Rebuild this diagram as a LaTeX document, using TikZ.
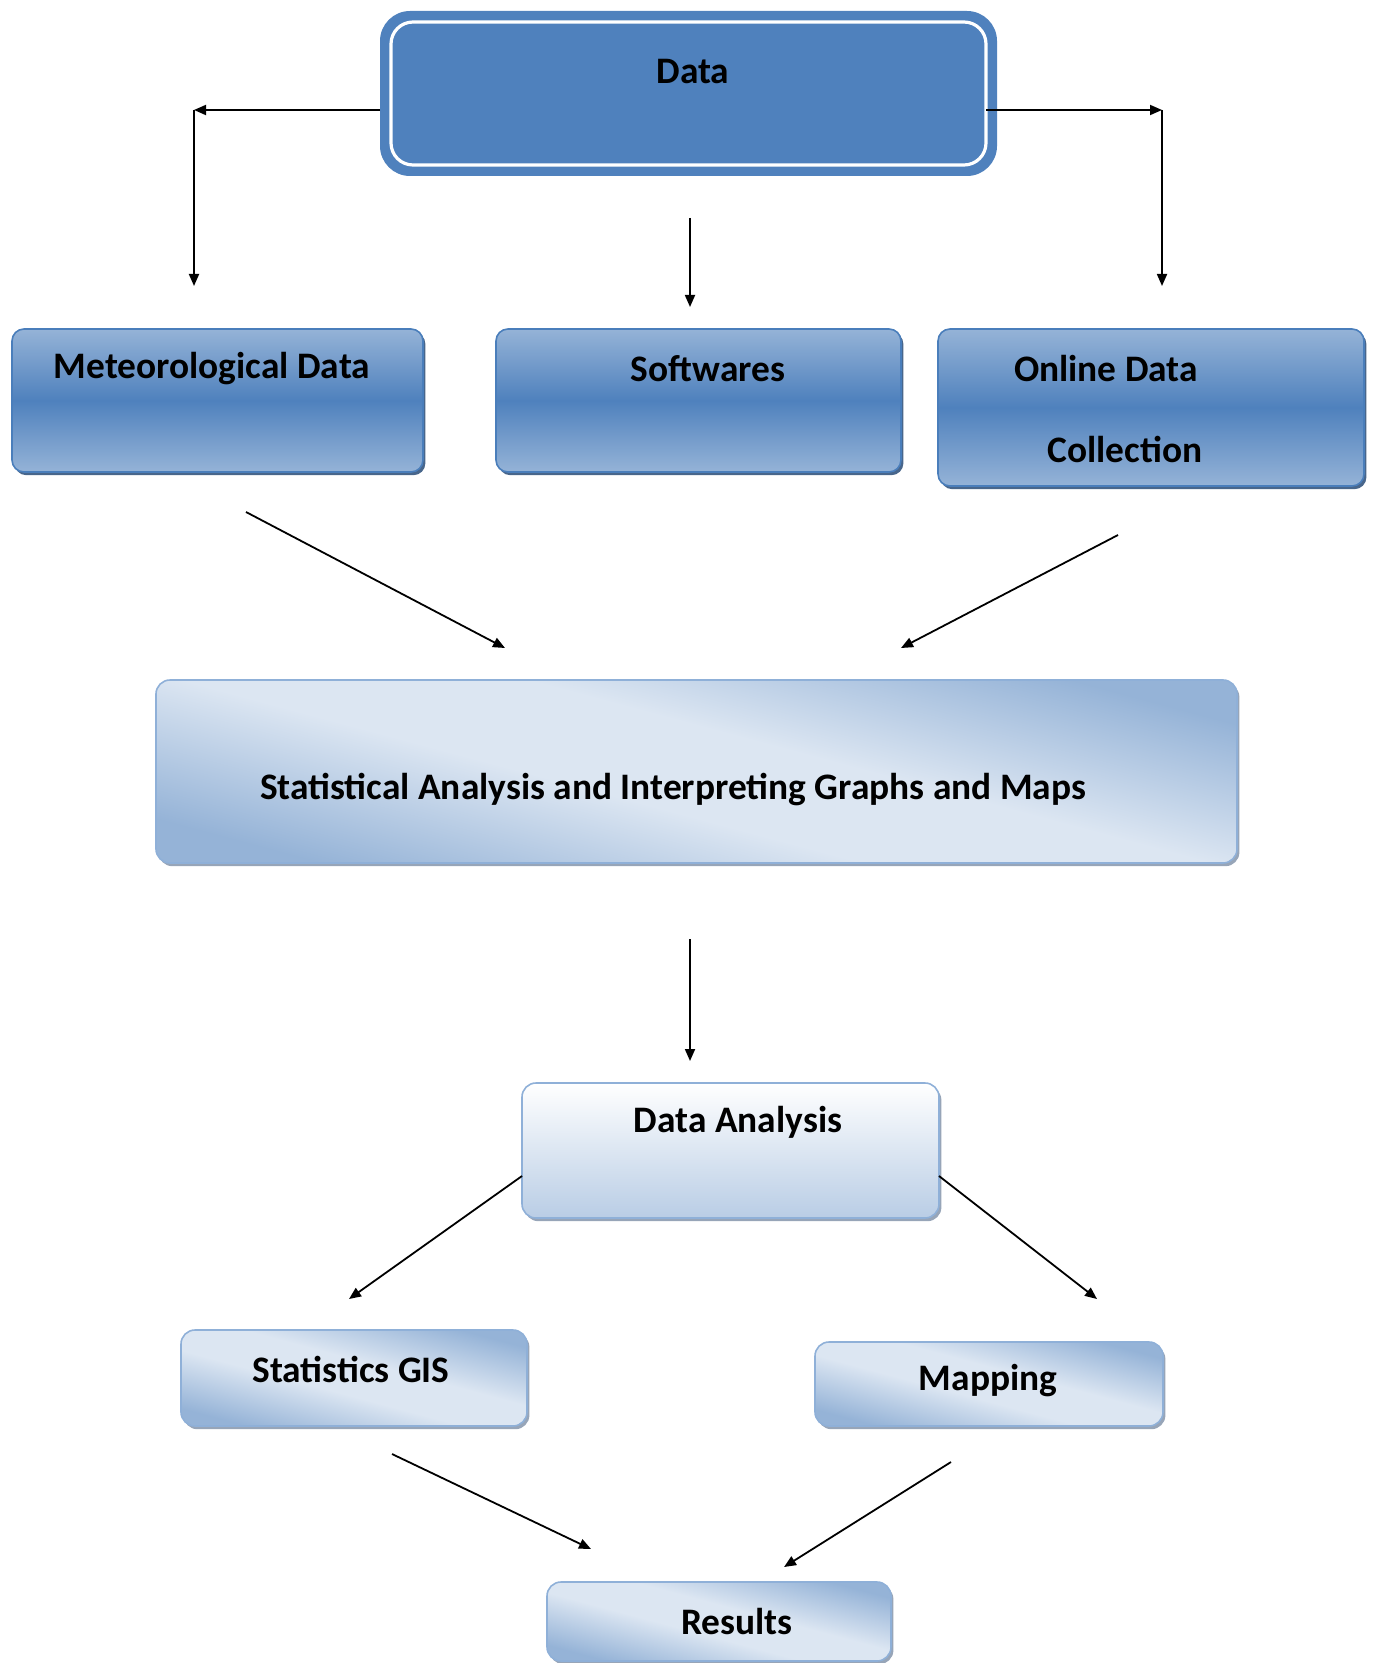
\documentclass[tikz,border=0pt]{standalone}
\usepackage{fontspec}
\setmainfont{Carlito}
\usetikzlibrary{shadows,arrows.meta,calc}
\definecolor{dblue}{HTML}{4F81BD}
\definecolor{lblue}{HTML}{95B3D7}
\definecolor{pblue}{HTML}{DCE6F2}
\definecolor{eblue}{HTML}{B9CDE5}
\definecolor{rowedge}{HTML}{4A7EBB}
\definecolor{rowshadow}{HTML}{34557E}
\definecolor{litedge}{HTML}{8FB0D8}
\definecolor{litshadow}{HTML}{8C9BB0}
\pgfdeclareverticalshading{lband}{100bp}{color(0bp)=(lblue); color(25bp)=(lblue); color(44bp)=(pblue); color(56bp)=(pblue); color(75bp)=(lblue); color(100bp)=(lblue)}
\begin{document}
\begin{tikzpicture}[x=0.5pt,y=-0.5pt,
  rowbox/.style={rectangle, rounded corners=6pt, inner sep=0pt, outer sep=0pt,
    draw=rowedge, line width=0.8pt, top color=lblue, bottom color=lblue, middle color=dblue,
    drop shadow={shadow xshift=1.2pt, shadow yshift=-1.6pt, fill=rowshadow, opacity=0.9}},
  litebox/.style={rectangle, rounded corners=7pt, inner sep=0pt, outer sep=0pt,
    draw=litedge, line width=0.8pt,
    shading=lband, shading angle=-15,
    drop shadow={shadow xshift=1.2pt, shadow yshift=-1.6pt, fill=litshadow, opacity=0.9}},
  anabox/.style={rectangle, rounded corners=7pt, inner sep=0pt, outer sep=0pt,
    draw=litedge, line width=0.8pt, top color=white, bottom color=eblue,
    drop shadow={shadow xshift=1.2pt, shadow yshift=-1.6pt, fill=litshadow, opacity=0.9}},
  txt/.style={font=\bfseries\fontsize{18.7}{22}\selectfont, inner sep=0pt, text=black},
  arr/.style={-{Triangle[length=6pt,width=5pt]}, line width=0.9pt, black}]
\useasboundingbox (0,0) rectangle (1372,1663);

% Data box
\node[rectangle, rounded corners=15pt, fill=dblue, minimum width=308.5pt, minimum height=82.5pt, inner sep=0pt, outer sep=0pt] (data) at (688.5,93.5) {};
\node[rectangle, rounded corners=11pt, draw=white, line width=1.6pt, minimum width=297.5pt, minimum height=71.5pt, inner sep=0pt] (datain) at (688.5,93.5) {};
\node[txt] (datat) at (693,72) {Data};

% row boxes
\node[rowbox, minimum width=205.5pt, minimum height=71.5pt] (met) at (217.5,400.5) {};
\node[txt] (mett) at (212,369) {Meteorological Data};
\node[rowbox, minimum width=202.5pt, minimum height=71.5pt] (soft) at (698.5,400.5) {};
\node[txt] (softt) at (708,369) {Softwares};
\node[rowbox, minimum width=213pt, minimum height=78.5pt] (online) at (1151,407.5) {};
\node[txt] (onlinet1) at (1106,369) {Online Data};
\node[txt] (onlinet2) at (1125,449) {Collection};

% statistics box
\node[litebox, minimum width=540.5pt, minimum height=91.5pt] (stats) at (696.5,771.5) {};
\node[txt] (statst) at (673,790) {Statistical Analysis and Interpreting Graphs and Maps};

% data analysis
\node[anabox, minimum width=208.5pt, minimum height=67.5pt] (ana) at (730.5,1150.5) {};
\node[txt] (anat) at (738,1122) {Data Analysis};

% statistics GIS, mapping
\node[litebox, minimum width=173pt, minimum height=48pt] (gis) at (354,1378) {};
\node[txt] (gist) at (351,1369) {Statistics GIS};
\node[litebox, minimum width=174pt, minimum height=42pt] (map) at (989,1384) {};
\node[txt] (mapt) at (988,1381) {Mapping};

% results
\node[litebox, minimum width=172pt, minimum height=39.5pt] (res) at (719,1621.5) {};
\node[txt] (rest) at (737,1621) {Results};

% coordinates for free ends
\coordinate (dl) at (380,110);
\coordinate (cl) at (194,110);
\coordinate (el) at (194,286);
\coordinate (dr) at (986,110);
\coordinate (cr) at (1162,110);
\coordinate (er) at (1162,286);
\coordinate (ms) at (690,218);
\coordinate (me) at (690,307);
\coordinate (a1s) at (246,512);
\coordinate (a1e) at (505,648);
\coordinate (a2s) at (1118,535);
\coordinate (a2e) at (901,648);
\coordinate (a3s) at (690,939);
\coordinate (a3e) at (690,1061);
\coordinate (a4s) at (522,1176);
\coordinate (a4e) at (349,1299);
\coordinate (a5s) at (939,1176);
\coordinate (a5e) at (1097,1299);
\coordinate (a6s) at (392,1454);
\coordinate (a6e) at (591,1549);
\coordinate (a7s) at (951,1462);
\coordinate (a7e) at (784,1567);

\draw[arr] (dl) -- (cl);
\draw[arr] (cl) -- (el);
\draw[arr] (dr) -- (cr);
\draw[arr] (cr) -- (er);
\draw[arr] (ms) -- (me);
\draw[arr] (a1s) -- (a1e);
\draw[arr] (a2s) -- (a2e);
\draw[arr] (a3s) -- (a3e);
\draw[arr] (a4s) -- (a4e);
\draw[arr] (a5s) -- (a5e);
\draw[arr] (a6s) -- (a6e);
\draw[arr] (a7s) -- (a7e);
\end{tikzpicture}
\end{document}
